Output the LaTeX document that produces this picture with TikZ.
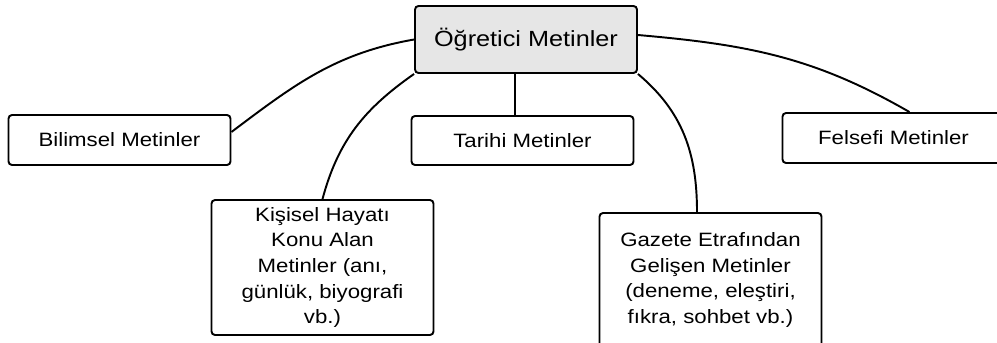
\documentclass[tikz,border=0pt]{standalone}
\usepackage{fontspec}
\setmainfont[FakeStretch=1.15]{Liberation Sans}
\definecolor{rootgray}{HTML}{E6E6E6}

\begin{document}
\begin{tikzpicture}
            [x=0.02cm, y=0.02cm, line width=1.1pt, font=\fontsize{11}{14.6}\selectfont,
             box/.style={shape=rectangle, draw=black, rounded corners=2pt, align=center,
                         inner sep=0pt, minimum width=4.44cm, minimum height=1cm}]
            \useasboundingbox (0,0) rectangle (997,-342);

            \node[box, fill=rootgray, minimum height=1.34cm, font=\fontsize{12.5}{15}\selectfont] (root) at (526,-39.5) {Öğretici Metinler};
            \node[box] (bilimsel) at (119.5,-140) {Bilimsel Metinler};
            \node[box, minimum height=0.98cm] (tarihi) at (522.5,-140.5) {Tarihi Metinler};
            \node[box] (felsefi) at (893.5,-138) {Felsefi Metinler};
            \node[box, minimum height=2.7cm] (kisisel) at (322.5,-267.5) {Kişisel Hayatı\\Konu Alan\\Metinler (anı,\\günlük, biyografi\\vb.)};
            \node[box, minimum height=2.68cm] (gazete) at (710.5,-280) {Gazete Etrafından\\Gelişen Metinler\\(deneme, eleştiri,\\fıkra, sohbet vb.)};
            \coordinate (tarihitop) at ([xshift=-0.15cm]tarihi.north);

            \path (root.west) edge [out=190, in=37] ([yshift=0.16cm]bilimsel.east);
            \path (root.south west) edge [out=215, in=75] (kisisel.north);
            \path (tarihitop |- root.south) edge (tarihitop);
            \path (root.south east) edge [out=-40, in=90] ([xshift=-0.27cm]gazete.north);
            \path ([yshift=0.09cm]root.east) edge [out=-5, in=150] ([xshift=0.32cm]felsefi.north);
        \end{tikzpicture}
\end{document}
